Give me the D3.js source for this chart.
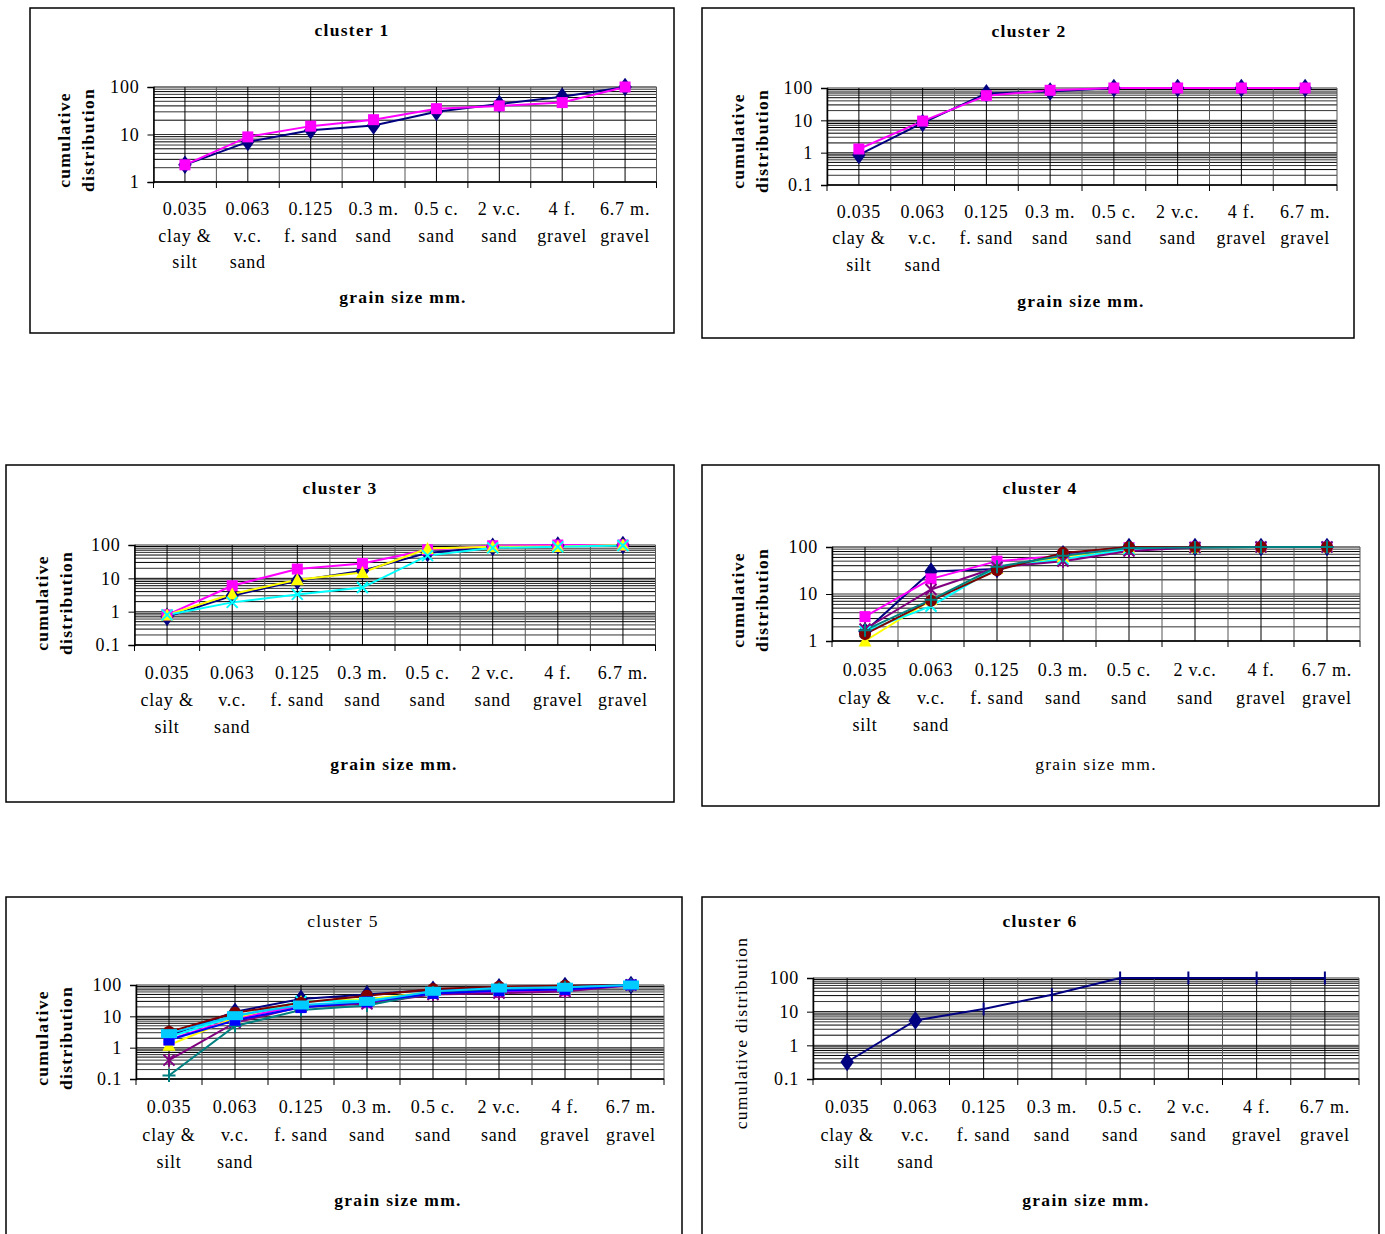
<!DOCTYPE html>
<html>
<head>
<meta charset="utf-8">
<script src="https://cdn.jsdelivr.net/npm/d3@7"></script>
<style>
	body { margin: 0; background: #fff; }
	svg text { font-family: 'Liberation Serif', 'Times New Roman', serif; fill: #000; }
	.tickText { font-size: 18px; letter-spacing: 0.8px; }
	.chartTitle, .xLabel, .yLabel { font-size: 17.5px; letter-spacing: 1.3px; }
	.bold { font-weight: bold; }
</style>
</head>
<body>
<div id="chart"><svg width="1385" height="1234"></svg></div>
<script>
/**********************
***** DATA *****
**********************/

const sizeLines = [ '0.035', '0.063', '0.125', '0.3 m.', '0.5 c.', '2 v.c.', '4 f.', '6.7 m.' ];
const classLines = [ [ 'clay &', 'silt' ], [ 'v.c.', 'sand' ], [ 'f. sand' ], [ 'sand' ], [ 'sand' ], [ 'sand' ], [ 'gravel' ], [ 'gravel' ] ];

const yTicksTo100 = [ 1, 10, 100 ];
const yTicksFrom01 = [ 0.1, 1, 10, 100 ];

// excel default series order
const seriesColors = [ '#000080', '#FF00FF', '#FFFF00', '#00FFFF', '#800080', '#800000', '#008080', '#0000FF', '#00CCFF' ];
const seriesMarkers = [ 'diamond', 'square', 'triangle', 'x', 'star', 'circle', 'plus', 'square', 'dash' ];

const cluster1 = [
	[ 2.3, 7.0, 12.3, 15.5, 30, 44, 62, 100 ],
	[ 2.3, 8.9, 15, 20.5, 35, 40, 47, 100 ]
];

const cluster2 = [
	[ 0.85, 8.3, 68, 78, 100, 100, 100, 100 ],
	[ 1.3, 9.5, 58, 85, 100, 100, 100, 100 ]
];

const cluster3 = [
	[ 0.7, 3.0, 8.5, 17, 58, 88, 97, 100 ],
	[ 0.8, 6.0, 19, 28, 72, 95, 100, 100 ],
	[ 0.8, 3.4, 9, 15, 78, 88, 90, 100 ],
	[ 0.8, 1.9, 3.3, 5.3, 48, 82, 88, 97 ]
];

const cluster4 = [
	[ 1.6, 30, 34, 70, 100, 100, 100, 100 ],
	[ 3.3, 21, 50, 65, 97, 100, 100, 100 ],
	[ 1.0, 7.5, 35, 62, 95, 97, 100, 100 ],
	[ 1.6, 5.5, 37, 55, 90, 97, 100, 100 ],
	[ 1.8, 12.5, 37, 50, 82, 97, 100, 100 ],
	[ 1.4, 7.2, 32, 75, 100, 100, 100, 100 ],
	[ 1.7, 7.5, 38, 65, 95, 97, 100, 100 ]
];

const cluster5 = [
	[ 2.4, 14, 36, 50, 70, 85, 93, 100 ],
	[ 1.8, 8.5, 22, 27, 55, 60, 65, 100 ],
	[ 1.2, 9, 30, 35, 60, 70, 75, 100 ],
	[ 2.2, 10, 30, 32, 58, 72, 80, 100 ],
	[ 0.4, 6.3, 20, 25, 50, 55, 62, 100 ],
	[ 3.2, 13, 27, 45, 75, 88, 95, 100 ],
	[ 0.13, 4.9, 16, 22, 58, 75, 85, 100 ],
	[ 1.75, 7.5, 19, 29, 54, 66, 72, 100 ],
	[ 2.8, 10.5, 23, 30, 63, 80, 85, 100 ]
];

const cluster6 = [
	[ 0.32, 5.5, 12, 32, 100, 100, 100, 100 ]
];
// cluster 6 draws its single series with two kinds of marker
const cluster6Markers = [ 'diamond', 'diamond', 'vbar', 'vbar', 'vbar', 'vbar', 'vbar', 'vbar' ];

/**********************
***** LAYOUT *****
**********************/

const charts = [
	{ title: 'cluster 1', values: cluster1, ticks: yTicksTo100, box: [ 30, 8, 674, 333 ], plot: [ 153.5, 87, 656.5, 182 ],
	  titleY: 30, titleX: 352, titleBold: true, rows: [ 209, 236, 262 ], xLabel: [ 403, 297 ], xBold: true,
	  yLabelX: 76, yLabelY: 140, yBold: true, yOneLine: false },
	{ title: 'cluster 2', values: cluster2, ticks: yTicksFrom01, box: [ 702, 8, 1354, 338 ], plot: [ 827, 88, 1337, 185 ],
	  titleY: 31, titleX: 1029, titleBold: true, rows: [ 212, 238, 265 ], xLabel: [ 1081, 301 ], xBold: true,
	  yLabelX: 750, yLabelY: 141, yBold: true, yOneLine: false },
	{ title: 'cluster 3', values: cluster3, ticks: yTicksFrom01, box: [ 6, 465, 674, 802 ], plot: [ 134.5, 545, 655.5, 645 ],
	  titleY: 488, titleX: 340, titleBold: true, rows: [ 673, 700, 727 ], xLabel: [ 394, 764 ], xBold: true,
	  yLabelX: 54, yLabelY: 603, yBold: true, yOneLine: false },
	{ title: 'cluster 4', values: cluster4, ticks: yTicksTo100, box: [ 702, 465, 1379, 806 ], plot: [ 832, 547, 1360, 641 ],
	  titleY: 488, titleX: 1040, titleBold: true, rows: [ 670, 698, 725 ], xLabel: [ 1096, 764 ], xBold: false,
	  yLabelX: 750, yLabelY: 600, yBold: true, yOneLine: false },
	{ title: 'cluster 5', values: cluster5, ticks: yTicksFrom01, box: [ 6, 897, 682, 1250 ], plot: [ 136, 985, 664, 1079 ],
	  titleY: 921, titleX: 343, titleBold: false, rows: [ 1107, 1135, 1162 ], xLabel: [ 398, 1200 ], xBold: true,
	  yLabelX: 54, yLabelY: 1038, yBold: true, yOneLine: false },
	{ title: 'cluster 6', values: cluster6, ticks: yTicksFrom01, box: [ 702, 897, 1379, 1250 ], plot: [ 813, 978, 1359, 1079 ],
	  titleY: 921, titleX: 1040, titleBold: true, rows: [ 1107, 1135, 1162 ], xLabel: [ 1086, 1200 ], xBold: true,
	  yLabelX: 741, yLabelY: 1033, yBold: false, yOneLine: true, markers: cluster6Markers }
];

const svg = d3.select('#chart').select('svg');

/**********************
***** MARKERS *****
**********************/

function drawMarker(g, type, color, x, y) {
	const s = 5.5;
	if (type === 'diamond') {
		g.append('path').attr('d', d3.symbol(d3.symbolDiamond, 100)()).attr('transform', `translate(${x},${y}) scale(1.25,1)`).attr('fill', color);
	} else if (type === 'square') {
		g.append('rect').attr('x', x - s).attr('y', y - s).attr('width', 2 * s).attr('height', 2 * s).attr('fill', color);
	} else if (type === 'triangle') {
		g.append('path').attr('d', `M${x},${y - s - 1}L${x + s + 1},${y + s}L${x - s - 1},${y + s}Z`).attr('fill', color);
	} else if (type === 'circle') {
		g.append('circle').attr('cx', x).attr('cy', y).attr('r', s + 0.5).attr('fill', color);
	} else if (type === 'dash') {
		g.append('rect').attr('x', x - 8).attr('y', y - 4.5).attr('width', 16).attr('height', 9).attr('fill', color);
	} else {
		let d = '';
		if (type === 'x' || type === 'star') d += `M${x - s},${y - s}L${x + s},${y + s}M${x - s},${y + s}L${x + s},${y - s}`;
		if (type === 'star' || type === 'vbar') d += `M${x},${y - s - 1}L${x},${y + s + 1}`;
		if (type === 'plus') d += `M${x - s - 1},${y}L${x + s + 1},${y}M${x},${y - s - 1}L${x},${y + s + 1}`;
		g.append('path').attr('d', d).attr('stroke', color).attr('stroke-width', 2).attr('fill', 'none');
	}
}

/**********************
***** ONE CHART *****
**********************/

function drawChart(c) {
	const [ left, top, right, bottom ] = c.plot;
	const g = svg.append('g');

	// frame
	g.append('rect')
		.attr('x', c.box[0]).attr('y', c.box[1])
		.attr('width', c.box[2] - c.box[0]).attr('height', c.box[3] - c.box[1])
		.attr('fill', 'none').attr('stroke', '#000').attr('stroke-width', 1.5);

	const xScale = d3.scaleBand().domain(d3.range(sizeLines.length)).range([ left, right ]).padding(0);
	const yScale = d3.scaleLog().domain([ c.ticks[0], 100 ]).range([ bottom, top ]);
	const xMid = (i) => xScale(i) + xScale.bandwidth() / 2;

	// log minor gridlines 1..9 per decade
	const minor = [];
	c.ticks.slice(0, -1).forEach(function(t) {
		for (let k = 1; k < 10; k++) minor.push(t * k);
	});
	minor.push(100);
	g.append('g').selectAll('line').data(minor).enter().append('line')
		.attr('x1', left).attr('x2', right)
		.attr('y1', (d) => yScale(d)).attr('y2', (d) => yScale(d))
		.attr('stroke', (d, i) => (i % 2 ? '#333' : '#000')).attr('stroke-width', 1);

	// vertical gridlines at category edges and centres
	const vx = [];
	d3.range(sizeLines.length).forEach(function(i) {
		vx.push(xScale(i));
		vx.push(xMid(i));
	});
	vx.push(right);
	g.append('g').selectAll('line').data(vx).enter().append('line')
		.attr('x1', (d) => d).attr('x2', (d) => d)
		.attr('y1', top).attr('y2', bottom)
		.attr('stroke', (d, i) => (i % 2 ? '#000' : '#555')).attr('stroke-width', 1);

	// y axis
	const yAxis = g.append('g')
		.attr('transform', `translate(${left},0)`)
		.call(d3.axisLeft(yScale).tickValues(c.ticks).tickFormat(d3.format('')).tickSize(6).tickPadding(8));
	yAxis.select('.domain').attr('stroke', '#000').attr('stroke-width', 1.5);
	yAxis.selectAll('.tick line').attr('stroke', '#000');
	yAxis.selectAll('text').attr('class', 'tickText').attr('fill', '#000').style('font-size', '18px');

	// x axis, ticks at category edges
	g.append('line').attr('x1', left).attr('x2', right).attr('y1', bottom).attr('y2', bottom)
		.attr('stroke', '#000').attr('stroke-width', 1.5);
	g.append('g').selectAll('line').data(vx.filter((d, i) => i % 2 === 0)).enter().append('line')
		.attr('x1', (d) => d).attr('x2', (d) => d).attr('y1', bottom).attr('y2', bottom + 6)
		.attr('stroke', '#000');

	// category labels
	sizeLines.forEach(function(label, i) {
		const lines = [ label ].concat(classLines[i]);
		lines.forEach(function(txt, j) {
			g.append('text').attr('class', 'tickText')
				.attr('x', xMid(i)).attr('y', c.rows[j] + 6)
				.attr('text-anchor', 'middle').text(txt);
		});
	});

	// series
	c.values.forEach(function(vals, si) {
		const color = seriesColors[si];
		const line = d3.line().x((d, i) => xMid(i)).y((d) => yScale(d));
		g.append('path').datum(vals).attr('d', line)
			.attr('fill', 'none').attr('stroke', color).attr('stroke-width', 2);
	});
	c.values.forEach(function(vals, si) {
		const color = seriesColors[si];
		vals.forEach(function(v, i) {
			const m = c.markers ? c.markers[i] : seriesMarkers[si];
			drawMarker(g, m, color, xMid(i), yScale(v));
		});
	});

	// title and axis labels
	g.append('text').attr('class', 'chartTitle' + (c.titleBold ? ' bold' : ''))
		.attr('x', c.titleX).attr('y', c.titleY + 6).attr('text-anchor', 'middle').text(c.title);

	g.append('text').attr('class', 'xLabel' + (c.xBold ? ' bold' : ''))
		.attr('x', c.xLabel[0]).attr('y', c.xLabel[1] + 6).attr('text-anchor', 'middle').text('grain size mm.');

	const yl = g.append('text').attr('class', 'yLabel' + (c.yBold ? ' bold' : ''))
		.attr('transform', `translate(${c.yLabelX},${c.yLabelY}) rotate(-90)`)
		.attr('text-anchor', 'middle');
	if (c.yOneLine) {
		yl.append('tspan').attr('x', 0).attr('y', 6).text('cumulative distribution');
	} else {
		yl.append('tspan').attr('x', 0).attr('y', -6).text('cumulative');
		yl.append('tspan').attr('x', 0).attr('y', 18).text('distribution');
	}
}

charts.forEach(drawChart);
</script>
</body>
</html>
